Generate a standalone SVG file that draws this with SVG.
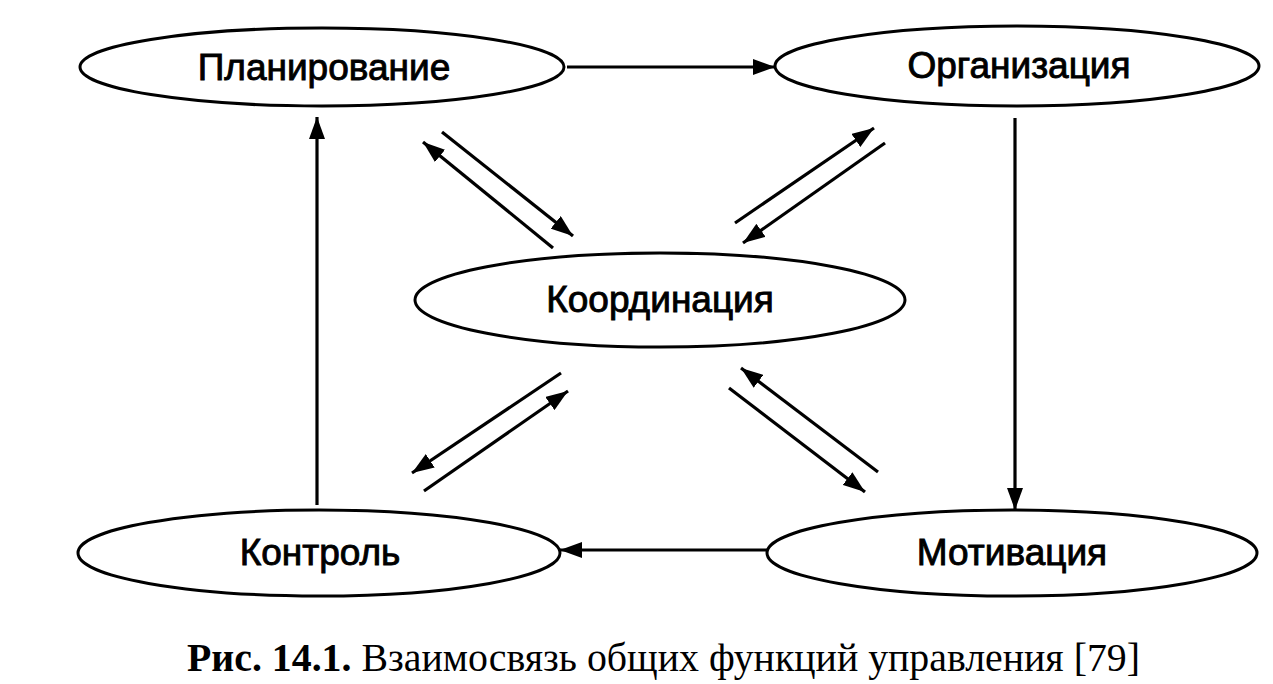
<svg xmlns="http://www.w3.org/2000/svg" width="1273" height="684" viewBox="0 0 1273 684">
<defs>
<marker id="ah" viewBox="0 0 22 16" refX="22" refY="8" markerWidth="22" markerHeight="16" markerUnits="userSpaceOnUse" orient="auto">
<path d="M0,0 L22,8 L0,16 Z" fill="#000"/>
</marker>
</defs>
<style>
.node ellipse{fill:#fff;stroke:#000;stroke-width:3}
.node text{font-family:"Liberation Sans",Arial,sans-serif;font-size:37px;text-anchor:middle;fill:#000;stroke:#000;stroke-width:0.9}
.conn line{stroke:#000;stroke-width:3.2;marker-end:url(#ah)}
.cap{font-family:"Liberation Serif","Times New Roman",serif;font-size:40px;fill:#000}
</style>
<rect width="1273" height="684" fill="#fff"/>
<g class="conn" id="connectors">
<line x1="567" y1="67" x2="775" y2="67"/>
<line x1="1015" y1="118" x2="1015" y2="510"/>
<line x1="767" y1="550" x2="560" y2="550"/>
<line x1="317" y1="505" x2="317" y2="117"/>
<line x1="553" y1="248" x2="423" y2="142"/>
<line x1="442" y1="132" x2="573" y2="236"/>
<line x1="735" y1="223" x2="874" y2="128"/>
<line x1="885" y1="143" x2="743" y2="243"/>
<line x1="561" y1="373" x2="412" y2="473"/>
<line x1="424" y1="491" x2="568" y2="391"/>
<line x1="878" y1="472" x2="741" y2="368"/>
<line x1="729" y1="388" x2="865" y2="492"/>
</g>
<g class="node" id="planirovanie">
<ellipse cx="322" cy="67" rx="242" ry="39"/>
<text x="324" y="80">Планирование</text>
</g>
<g class="node" id="organizatsiya">
<ellipse cx="1017" cy="66" rx="242" ry="40"/>
<text x="1019" y="78">Организация</text>
</g>
<g class="node" id="koordinatsiya">
<ellipse cx="660" cy="300" rx="245" ry="47"/>
<text x="660" y="312">Координация</text>
</g>
<g class="node" id="kontrol">
<ellipse cx="319" cy="553" rx="241" ry="43"/>
<text x="320" y="565">Контроль</text>
</g>
<g class="node" id="motivatsiya">
<ellipse cx="1012" cy="553" rx="245" ry="43"/>
<text x="1012" y="565">Мотивация</text>
</g>
<text class="cap" x="187" y="671" textLength="953" lengthAdjust="spacingAndGlyphs"><tspan font-weight="bold">Рис. 14.1.</tspan> Взаимосвязь общих функций управления [79]</text>
</svg>
